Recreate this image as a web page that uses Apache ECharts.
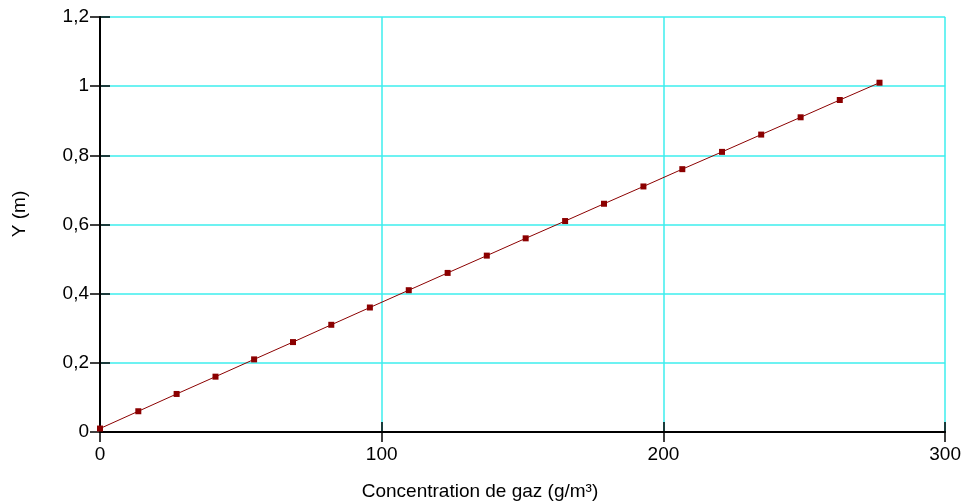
<!DOCTYPE html>
<html>
<head>
<meta charset="utf-8">
<script src="https://cdn.jsdelivr.net/npm/echarts@6/dist/echarts.min.js"></script>
<style>
  html, body { margin: 0; padding: 0; background: #fff; }
  #chart { width: 964px; height: 501px; }
</style>
</head>
<body>
<div id="chart"></div>
<script>
// Measured points: gas concentration (g/m³) against height Y (m)
const concentration = [0, 13.6, 27.2, 41.0, 54.7, 68.5, 82.1, 95.8, 109.6, 123.4, 137.3,
  151.1, 165.1, 178.9, 192.9, 206.7, 220.8, 234.7, 248.7, 262.6, 276.7];
const heightY = [0.01, 0.06, 0.11, 0.16, 0.21, 0.26, 0.31, 0.36, 0.41, 0.46, 0.51,
  0.56, 0.61, 0.66, 0.71, 0.76, 0.81, 0.86, 0.91, 0.96, 1.01];

const xTitle = 'Concentration de gaz (g/m³)';
const yTitle = 'Y (m)';

const FONT = 'Liberation Sans, Arial, sans-serif';
const FONT_SIZE = 19;
const GRID_COLOR = '#3ceeee';
const LINE_COLOR = '#8b0000';

const chart = echarts.init(document.getElementById('chart'), null, { renderer: 'canvas' });

const commaFmt = v => String(Math.round(v * 10) / 10).replace('.', ',');

const xBase = { type: 'value', min: 0, max: 300, interval: 100 };
const yBase = { type: 'value', min: 0, max: 1.2, interval: 0.2 };

// Ticks cross the axis: one axis draws the outer half, a twin draws the inner half
chart.setOption({
  animation: false,
  grid: { left: 100, right: 18, top: 17, bottom: 69, containLabel: false },
  xAxis: [
    Object.assign({}, xBase, {
      position: 'bottom',
      axisLine: { show: true, lineStyle: { color: '#000', width: 2 } },
      axisTick: { show: true, inside: false, length: 10, lineStyle: { color: '#000', width: 1.5 } },
      axisLabel: { color: '#000', fontSize: FONT_SIZE, fontFamily: FONT, margin: 13 },
      splitLine: { show: true, lineStyle: { color: GRID_COLOR, width: 1.5 } }
    }),
    Object.assign({}, xBase, {
      position: 'bottom',
      axisLine: { show: false },
      axisTick: { show: true, inside: true, length: 10, lineStyle: { color: '#000', width: 1.5 } },
      axisLabel: { show: false },
      splitLine: { show: false }
    })
  ],
  yAxis: [
    Object.assign({}, yBase, {
      position: 'left',
      axisLine: { show: true, lineStyle: { color: '#000', width: 2 } },
      axisTick: { show: true, inside: false, length: 10, lineStyle: { color: '#000', width: 1.5 } },
      axisLabel: { color: '#000', fontSize: FONT_SIZE, fontFamily: FONT, margin: 11, formatter: commaFmt },
      splitLine: { show: true, lineStyle: { color: GRID_COLOR, width: 1.5 } }
    }),
    Object.assign({}, yBase, {
      position: 'left',
      axisLine: { show: false },
      axisTick: { show: true, inside: true, length: 10, lineStyle: { color: '#000', width: 1.5 } },
      axisLabel: { show: false },
      splitLine: { show: false }
    })
  ],
  graphic: [{
    type: 'text',
    x: 480,
    y: 492,
    style: { text: xTitle, fill: '#000', fontSize: FONT_SIZE, fontFamily: FONT,
      align: 'center', verticalAlign: 'middle' }
  }, {
    type: 'text',
    x: 20,
    y: 214,
    rotation: Math.PI / 2,
    style: { text: yTitle, fill: '#000', fontSize: FONT_SIZE, fontFamily: FONT,
      align: 'center', verticalAlign: 'middle' }
  }],
  series: [{
    type: 'line',
    xAxisIndex: 0,
    yAxisIndex: 0,
    data: concentration.map((x, i) => [x, heightY[i]]),
    symbol: 'rect',
    symbolSize: 6,
    lineStyle: { color: LINE_COLOR, width: 1 },
    itemStyle: { color: LINE_COLOR },
    z: 5
  }]
});
</script>
</body>
</html>
